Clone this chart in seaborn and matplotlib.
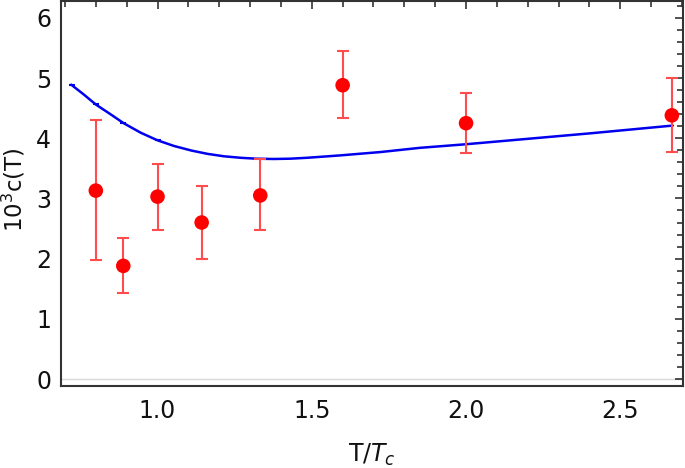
import matplotlib
matplotlib.use("Agg")
import matplotlib.pyplot as plt
import seaborn as sns
import pandas as pd
from matplotlib.ticker import MultipleLocator

# Lattice data points
t_data = [0.8, 0.889, 1.0, 1.143, 1.333, 1.6, 2.0, 2.667]
c_data = [3.13, 1.88, 3.03, 2.60, 3.05, 4.88, 4.25, 4.38]
c_low = [1.97, 1.43, 2.48, 2.00, 2.47, 4.33, 3.75, 3.77]
c_high = [4.30, 2.35, 3.58, 3.20, 3.65, 5.45, 4.75, 5.00]

# Model curve
t_curve = [0.72, 0.76, 0.80, 0.85, 0.89, 0.946, 1.0, 1.054, 1.11, 1.162, 1.215, 1.269,
           1.32, 1.377, 1.43, 1.485, 1.593, 1.722, 1.85, 2.0, 2.2, 2.4, 2.67]
c_curve = [4.89, 4.73, 4.56, 4.39, 4.25, 4.09, 3.965, 3.87, 3.795, 3.74, 3.70, 3.675,
           3.66, 3.655, 3.66, 3.675, 3.715, 3.77, 3.84, 3.90, 3.99, 4.08, 4.21]
t_curve_marks = [0.723, 0.8, 0.889, 1.0]
c_curve_marks = [4.89, 4.56, 4.25, 3.965]

sns.set_style("white")
plt.rcParams['font.family'] = ['DejaVu Sans']

fig = plt.figure(figsize=(6.85, 4.68), dpi=100)
ax = fig.add_axes([0.089, 0.175, 0.908, 0.823])

ax.axhline(0, color="#d9d9d9", lw=1.0, zorder=0)

sns.lineplot(x=t_curve, y=c_curve, ax=ax, color="#0000ee", lw=1.8, sort=False, zorder=2)
ax.plot(t_curve_marks, c_curve_marks, ls="none", marker="_", ms=5, mew=1.5, color="#0000ee", zorder=2)

lo = [c - l for c, l in zip(c_data, c_low)]
hi = [h - c for c, h in zip(c_data, c_high)]
ax.errorbar(t_data, c_data, yerr=[lo, hi], fmt="none", ecolor="#ff4d4d",
            elinewidth=1.5, capsize=4, capthick=1.5, zorder=3)
df = pd.DataFrame({"t": t_data, "c": c_data})
sns.scatterplot(data=df, x="t", y="c", ax=ax, color="#ff0000", s=110, edgecolor="none", zorder=4)

ax.set_xlim(0.687, 2.703)
ax.set_ylim(-0.117, 6.28)

ax.xaxis.set_major_locator(MultipleLocator(0.5))
ax.xaxis.set_minor_locator(MultipleLocator(0.1))
ax.yaxis.set_major_locator(MultipleLocator(1))
ax.yaxis.set_minor_locator(MultipleLocator(0.2))
ax.xaxis.set_major_formatter(matplotlib.ticker.FormatStrFormatter("%.1f"))

ax.tick_params(which="both", direction="in", top=True, right=True, color="#333333",
               labelsize=17, width=1.2, labelcolor="#111111")
ax.tick_params(which="major", length=6)
ax.tick_params(axis="x", which="major", pad=9)
ax.tick_params(axis="y", which="major", pad=7)
ax.tick_params(which="minor", length=4)
for s in ax.spines.values():
    s.set_color("#333333")
    s.set_linewidth(1.5)

ax.set_xlabel("T/$T_c$", fontsize=17, labelpad=14, color="#111111")
ax.set_ylabel("10$^3$c(T)", fontsize=16.5, color="#111111", va="center")
ax.yaxis.set_label_coords(-0.0756, 0.51)

fig.savefig("out.png", dpi=100)
